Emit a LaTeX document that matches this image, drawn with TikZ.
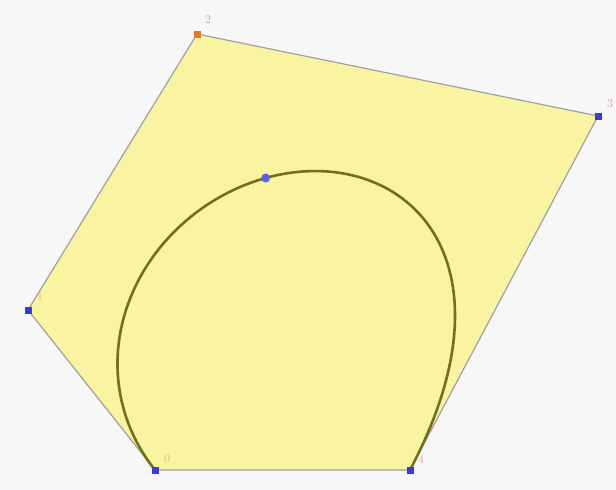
\documentclass[tikz,border=0pt]{standalone}
\begin{document}
\begin{tikzpicture}[x=1pt,y=-1pt,
  ctrl/.style={fill=ptblue,draw=none,minimum size=7pt,inner sep=0pt},
  lbl/.style={text=lblcol,font=\fontsize{12}{12}\selectfont,inner sep=1pt},
  hull/.style={draw=edgegray,line width=1.2pt,fill=fillyellow},
  curvestyle/.style={draw=curvecol,line width=2.6pt,line cap=round}]
\definecolor{ptblue}{HTML}{3A3AD8}
\definecolor{ptorange}{HTML}{E07A2A}
\definecolor{edgegray}{HTML}{A0A0A0}
\definecolor{fillyellow}{HTML}{F8F4A2}
\definecolor{curvecol}{HTML}{727020}
\definecolor{lblcol}{HTML}{E8909A}
\definecolor{bgcol}{HTML}{F7F7F7}
\useasboundingbox (0,0) rectangle (616,490);
\fill[bgcol] (0,0) rectangle (616,490);
\def\xa{155}\def\ya{470}
\def\xb{28}\def\yb{310}
\def\xc{197}\def\yc{34}
\def\xd{598}\def\yd{116}
\def\xe{410}\def\ye{470}
\coordinate (p0) at (\xa,\ya);
\coordinate (p1) at (\xb,\yb);
\coordinate (p2) at (\xc,\yc);
\coordinate (p3) at (\xd,\yd);
\coordinate (p4) at (\xe,\ye);
\path[hull] (p0) -- (p1) -- (p2) -- (p3) -- (p4) -- cycle;
\draw[curvestyle] plot[domain=0:1,samples=140,variable=\t]
 ({(1-\t)^4*\xa + 4*\t*(1-\t)^3*\xb + 6*\t^2*(1-\t)^2*\xc + 4*\t^3*(1-\t)*\xd + \t^4*\xe},
  {(1-\t)^4*\ya + 4*\t*(1-\t)^3*\yb + 6*\t^2*(1-\t)^2*\yc + 4*\t^3*(1-\t)*\yd + \t^4*\ye});
\node[ctrl] (n0) at (p0) {};
\node[ctrl] (n1) at (p1) {};
\node[ctrl,fill=ptorange] (n2) at (p2) {};
\node[ctrl] (n3) at (p3) {};
\node[ctrl] (n4) at (p4) {};
\node[circle,fill=ptblue!80,minimum size=9pt,inner sep=0pt] (mid) at (265.7,178) {};
\node[lbl,text=ptorange!60] (l0) at (167,459) {0};
\node[lbl,text=ptorange!60] (l1) at (40,297) {1};
\node[lbl] (l2) at (208,20) {2};
\node[lbl] (l3) at (610,104) {3};
\node[lbl] (l4) at (421,459) {4};
\end{tikzpicture}
\end{document}
